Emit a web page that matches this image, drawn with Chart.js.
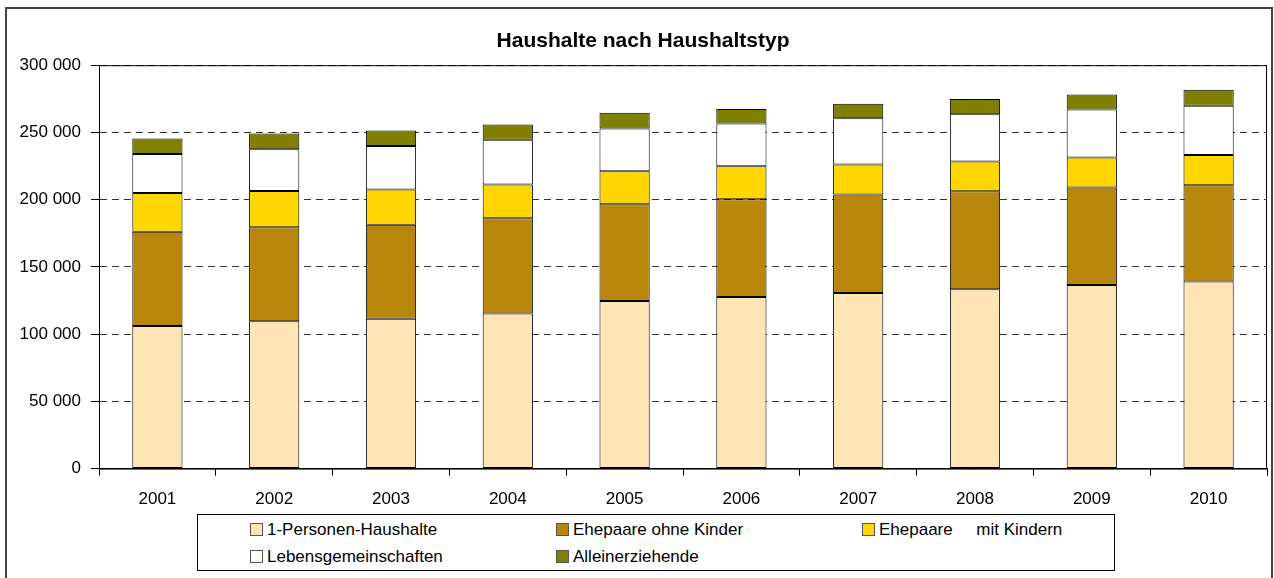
<!DOCTYPE html>
<html lang="de">
<head>
<meta charset="utf-8">
<title>Haushalte nach Haushaltstyp</title>
<script src="https://cdn.jsdelivr.net/npm/chart.js@4.4.0/dist/chart.umd.min.js"></script>
<style>
  html, body { margin: 0; padding: 0; background: #fff; }
  body { width: 1274px; height: 578px; position: relative; overflow: hidden;
         font-family: "Liberation Sans", Arial, sans-serif; }
  #frame { position: absolute; left: 5px; top: 7px; width: 1268px; height: 575px;
           border: 2px solid #444; box-sizing: border-box; pointer-events: none; }
  #wrap { position: absolute; left: 0; top: 0; width: 1274px; height: 578px; }
  #legend { position: absolute; left: 197px; top: 514px; width: 918px; height: 57px;
            border: 1px solid #000; box-sizing: border-box; background: #fff; }
  .legend-item { position: absolute; height: 20px; line-height: 20px; font-size: 17px;
                 color: #000; white-space: nowrap; }
  .legend-box { display: inline-block; width: 11px; height: 11px; border: 1px solid #555;
                vertical-align: -1px; margin-right: 4px; }
</style>
</head>
<body>
<div id="wrap"><canvas id="householdChart" width="1274" height="578"></canvas></div>
<div id="legend"></div>
<div id="frame"></div>

<script>
// Haushalte nach Haushaltstyp, 2001-2010

const years = ["2001", "2002", "2003", "2004", "2005", "2006", "2007", "2008", "2009", "2010"];

const einPersonen = [106000, 109500, 111500, 115400, 124600, 127600, 130500, 133300, 136500, 139200];
const ohneKinder = [70200, 69900, 69900, 70700, 72000, 72700, 73300, 73000, 72500, 71500];
const mitKindern = [28800, 27100, 26100, 25100, 24500, 24600, 22300, 22100, 22300, 22600];
const lebensgemeinschaften = [29000, 31000, 32500, 33300, 31800, 31700, 34500, 35200, 35800, 36500];
const alleinerziehende = [11500, 11700, 11400, 11400, 11700, 10900, 10700, 11200, 11200, 11900];

const seriesLabels = [
  "1-Personen-Haushalte",
  "Ehepaare ohne Kinder",
  "Ehepaare\u00a0\u00a0\u00a0\u00a0 mit Kindern",
  "Lebensgemeinschaften",
  "Alleinerziehende",
];
const seriesColors = ["#FFE4B5", "#B8860B", "#FFD700", "#FFFFFF", "#808000"];

const yTicks = [0, 50000, 100000, 150000, 200000, 250000, 300000];

const FONT = '"Liberation Sans", Arial, sans-serif';

function formatNumber(v) {
  return String(v).replace(/\B(?=(\d{3})+(?!\d))/g, " ");
}

// solid frame around the plot area
const plotFrame = {
  id: "plotFrame",
  beforeDatasetsDraw(chart) {
    const { ctx, chartArea } = chart;
    ctx.save();
    ctx.strokeStyle = "#000";
    ctx.lineWidth = 1;
    ctx.strokeRect(chartArea.left + 0.5, chartArea.top + 0.5,
      chartArea.right - chartArea.left - 1, chartArea.bottom - chartArea.top);
    ctx.restore();
  },
};

const values = [einPersonen, ohneKinder, mitKindern, lebensgemeinschaften, alleinerziehende];

const chart = new Chart(document.getElementById("householdChart"), {
  type: "bar",
  data: {
    labels: years,
    datasets: values.map((data, i) => ({
      label: seriesLabels[i],
      data: data,
      backgroundColor: seriesColors[i],
      borderColor: "#000",
      borderWidth: 1,
      borderSkipped: false,
      barPercentage: 0.43,
      categoryPercentage: 1.0,
    })),
  },
  options: {
    responsive: false,
    animation: false,
    layout: { padding: { left: 19, right: 7, top: 10, bottom: 54 } },
    plugins: {
      legend: { display: false },
      tooltip: { enabled: false },
      title: {
        display: true,
        text: "Haushalte nach Haushaltstyp",
        color: "#000",
        font: { family: FONT, size: 21, weight: "bold" },
        padding: { top: 19, bottom: 11 },
      },
    },
    scales: {
      x: {
        stacked: true,
        grid: { drawOnChartArea: false, drawTicks: true, tickLength: 7, color: "#000" },
        border: { color: "#000", width: 1 },
        ticks: { color: "#000", font: { family: FONT, size: 17 }, padding: 14 },
      },
      y: {
        stacked: true,
        min: 0,
        max: 300000,
        afterFit(scale) { scale.width = 80; },
        afterBuildTicks(scale) { scale.ticks = yTicks.map((v) => ({ value: v })); },
        grid: { color: "#333", lineWidth: 1, tickLength: 8, tickBorderDash: [], tickColor: "#000" },
        border: { color: "#000", width: 1, dash: [7, 5] },
        ticks: {
          color: "#000",
          font: { family: FONT, size: 17 },
          padding: 10,
          callback: (v) => formatNumber(v),
        },
      },
    },
  },
  plugins: [plotFrame],
});

// legend in three columns, built from the datasets
function buildLegend(chart) {
  const container = document.getElementById("legend");
  const colLeft = [52, 358, 664];
  const rowTop = [5, 32];
  let html = "";
  chart.data.datasets.forEach((ds, i) => {
    const col = i % 3;
    const row = Math.floor(i / 3);
    html += `<div class="legend-item" style="left:${colLeft[col]}px; top:${rowTop[row]}px;">` +
      `<span class="legend-box" style="background:${ds.backgroundColor};"></span>${ds.label}</div>`;
  });
  container.innerHTML = html;
}

buildLegend(chart);
</script>
</body>
</html>
